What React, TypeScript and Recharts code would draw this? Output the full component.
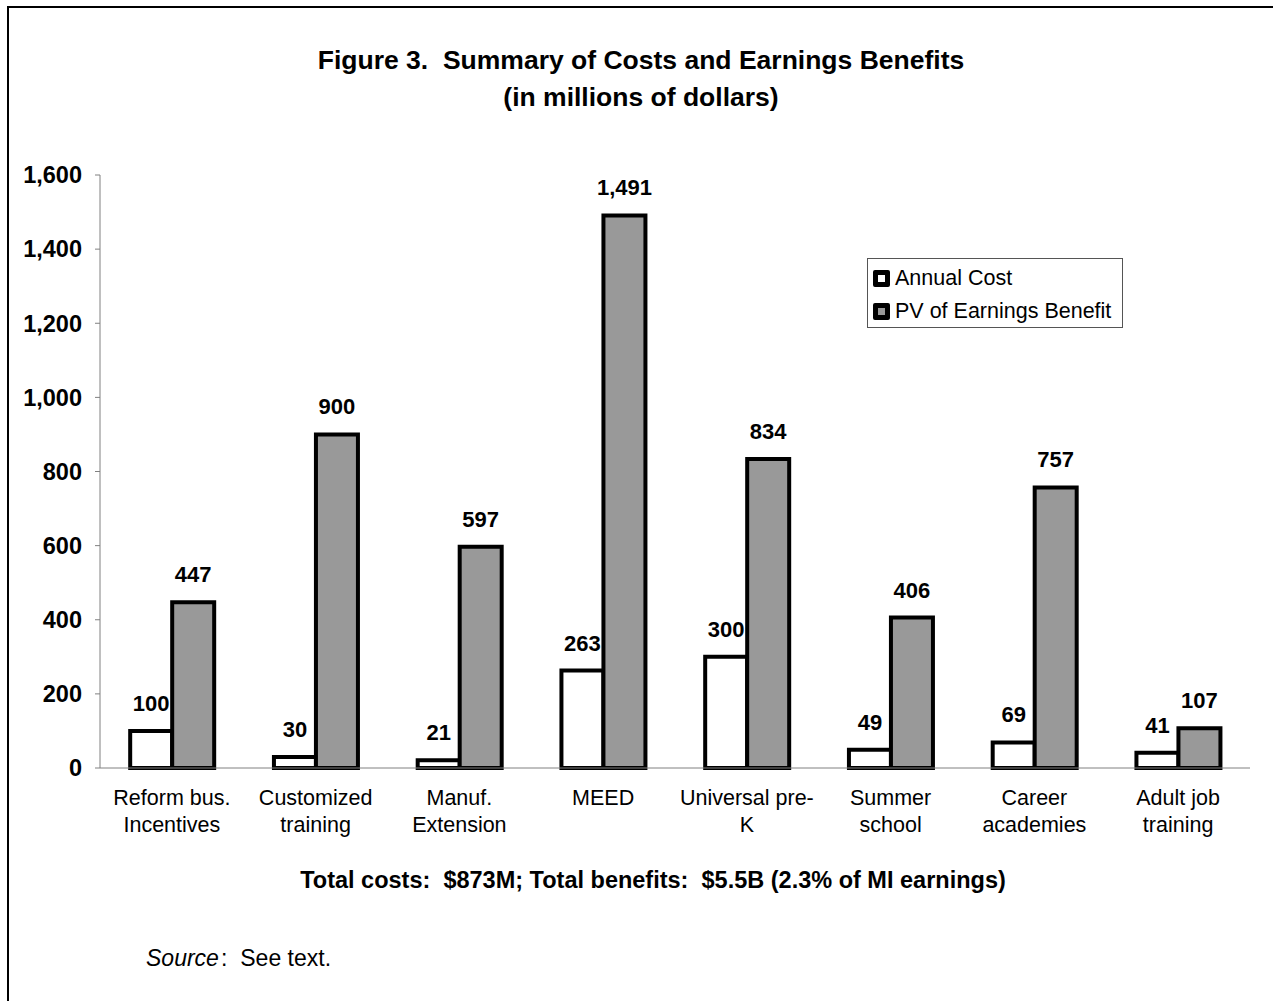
import { Bar, BarChart, LabelList, Legend, XAxis, YAxis } from "recharts";

const categories = [
  ["Reform bus.", "Incentives"],
  ["Customized", "training"],
  ["Manuf.", "Extension"],
  ["MEED"],
  ["Universal pre-", "K"],
  ["Summer", "school"],
  ["Career", "academies"],
  ["Adult job", "training"],
];
const annualCost = [100, 30, 21, 263, 300, 49, 69, 41];
const earningsBenefit = [447, 900, 597, 1491, 834, 406, 757, 107];
const yTicks = [0, 200, 400, 600, 800, 1000, 1200, 1400, 1600];
const edgeTicks = [0, 1, 2, 3, 4, 5, 6, 7, 8];
const seriesNames = ["Annual Cost", "PV of Earnings Benefit"];

const data = categories.map((lines, i) => ({
  name: lines.join(" "),
  cost: annualCost[i],
  benefit: earningsBenefit[i],
}));

const FONT = "Arial, 'Liberation Sans', sans-serif";
const AXIS = "#808080";

const fmt = (v: number | string) => Number(v).toLocaleString("en-US");

function CategoryTick(props: any) {
  const { x, y, payload } = props;
  const lines = categories[payload.index] ?? [];
  return (
    <text x={x} y={y + 37} textAnchor="middle" fontSize={21.5} fill="#000">
      {lines.map((line, i) => (
        <tspan key={i} x={x} dy={i === 0 ? 0 : 27}>
          {line}
        </tspan>
      ))}
    </text>
  );
}

function LegendBox() {
  const fills = ["#ffffff", "#999999"];
  return (
    <div
      style={{
        width: 256,
        height: 70,
        boxSizing: "border-box",
        border: "1px solid #555",
        background: "#fff",
        position: "relative",
        fontFamily: FONT,
        fontSize: 21.5,
      }}
    >
      {seriesNames.map((name, i) => (
        <div
          key={name}
          style={{
            position: "absolute",
            left: 5,
            top: 6 + i * 33,
            height: 26,
            display: "flex",
            alignItems: "center",
            whiteSpace: "nowrap",
          }}
        >
          <span
            style={{
              display: "inline-block",
              width: 17,
              height: 17,
              boxSizing: "border-box",
              border: "5px solid #000",
              borderRadius: 2,
              background: fills[i],
              marginRight: 5,
            }}
          />
          {name}
        </div>
      ))}
    </div>
  );
}

export default function App() {
  return (
    <div
      style={{
        position: "absolute",
        left: 0,
        top: 0,
        width: 1273,
        height: 1001,
        overflow: "hidden",
        background: "#fff",
        fontFamily: FONT,
      }}
    >
      <div
        style={{
          position: "absolute",
          left: 7,
          top: 6,
          width: 1400,
          height: 1100,
          borderTop: "2px solid #000",
          borderLeft: "2px solid #000",
        }}
      />
      <div
        style={{
          position: "absolute",
          left: 0,
          top: 42,
          width: 1282,
          textAlign: "center",
          fontWeight: "bold",
          fontSize: 26.5,
          lineHeight: "37px",
          whiteSpace: "pre",
        }}
      >
        {"Figure 3.  Summary of Costs and Earnings Benefits\n(in millions of dollars)"}
      </div>

      <div style={{ position: "absolute", left: 0, top: 0 }}>
        <BarChart
          width={1273}
          height={1001}
          data={data}
          margin={{ top: 175, right: 23, bottom: 172, left: 10 }}
          barCategoryGap="21%"
          barGap={0}
        >
          <XAxis
            xAxisId="edges"
            type="number"
            domain={[0, 8]}
            ticks={edgeTicks}
            tick={false}
            axisLine={false}
            tickLine={{ stroke: AXIS }}
            tickSize={6}
            height={1}
          />
          <XAxis
            xAxisId="cat"
            dataKey="name"
            interval={0}
            tickLine={false}
            tickSize={0}
            tickMargin={0}
            axisLine={{ stroke: AXIS }}
            tick={<CategoryTick />}
            height={60}
          />
          <YAxis
            width={90}
            domain={[0, 1600]}
            ticks={yTicks}
            interval={0}
            tickFormatter={fmt}
            axisLine={{ stroke: AXIS }}
            tickLine={{ stroke: AXIS }}
            tickSize={5}
            tickMargin={13}
            tick={{ fontSize: 23.5, fontWeight: "bold", fill: "#000" }}
          />
          <Legend
            layout="vertical"
            align="center"
            verticalAlign="middle"
            content={<LegendBox />}
            wrapperStyle={{ left: 867, top: 258, width: 256, height: 70 }}
          />
          <Bar
            xAxisId="cat"
            dataKey="cost"
            name={seriesNames[0]}
            fill="#ffffff"
            stroke="#000"
            strokeWidth={4}
            isAnimationActive={false}
          >
            <LabelList
              dataKey="cost"
              position="top"
              offset={20}
              formatter={fmt}
              style={{ fontSize: 22, fontWeight: "bold", fill: "#000" }}
            />
          </Bar>
          <Bar
            xAxisId="cat"
            dataKey="benefit"
            name={seriesNames[1]}
            fill="#999999"
            stroke="#000"
            strokeWidth={4}
            isAnimationActive={false}
          >
            <LabelList
              dataKey="benefit"
              position="top"
              offset={20}
              formatter={fmt}
              style={{ fontSize: 22, fontWeight: "bold", fill: "#000" }}
            />
          </Bar>
        </BarChart>
      </div>

      <div
        style={{
          position: "absolute",
          left: 0,
          top: 867,
          width: 1306,
          textAlign: "center",
          fontWeight: "bold",
          fontSize: 23.5,
          lineHeight: "27px",
          whiteSpace: "pre",
        }}
      >
        {"Total costs:  $873M; Total benefits:  $5.5B (2.3% of MI earnings)"}
      </div>
      <div
        style={{
          position: "absolute",
          left: 146,
          top: 945,
          fontSize: 23,
          lineHeight: "27px",
          whiteSpace: "pre",
        }}
      >
        <i>Source</i>
        <span style={{ marginLeft: 2 }}>:</span>
        <span style={{ marginLeft: 13 }}>See text.</span>
      </div>
    </div>
  );
}
